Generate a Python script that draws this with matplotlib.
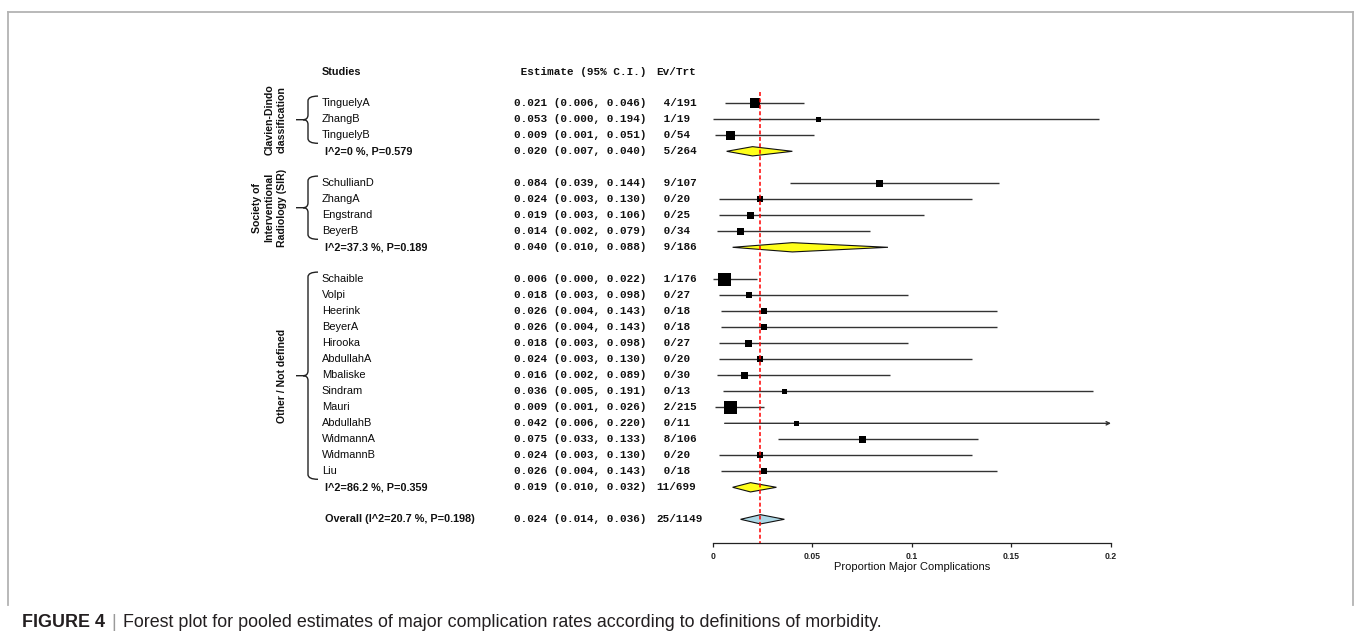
import matplotlib
matplotlib.use("Agg")
import numpy as np
import matplotlib.pyplot as plt
from matplotlib import transforms
from matplotlib.path import Path
from matplotlib.patches import PathPatch, Polygon
from matplotlib.lines import Line2D

# ---------------- data ----------------
studies = ["TinguelyA", "ZhangB", "TinguelyB",
           "SchullianD", "ZhangA", "Engstrand", "BeyerB",
           "Schaible", "Volpi", "Heerink", "BeyerA", "Hirooka", "AbdullahA",
           "Mbaliske", "Sindram", "Mauri", "AbdullahB", "WidmannA", "WidmannB", "Liu"]
study_group = [0, 0, 0,
               1, 1, 1, 1,
               2, 2, 2, 2, 2, 2, 2, 2, 2, 2, 2, 2, 2]
est = [0.021, 0.053, 0.009,
       0.084, 0.024, 0.019, 0.014,
       0.006, 0.018, 0.026, 0.026, 0.018, 0.024, 0.016, 0.036, 0.009, 0.042, 0.075, 0.024, 0.026]
ci_lo = [0.006, 0.000, 0.001,
         0.039, 0.003, 0.003, 0.002,
         0.000, 0.003, 0.004, 0.004, 0.003, 0.003, 0.002, 0.005, 0.001, 0.006, 0.033, 0.003, 0.004]
ci_hi = [0.046, 0.194, 0.051,
         0.144, 0.130, 0.106, 0.079,
         0.022, 0.098, 0.143, 0.143, 0.098, 0.130, 0.089, 0.191, 0.026, 0.220, 0.133, 0.130, 0.143]
events = [4, 1, 0,
          9, 0, 0, 0,
          1, 0, 0, 0, 0, 0, 0, 0, 2, 0, 8, 0, 0]
totals = [191, 19, 54,
          107, 20, 25, 34,
          176, 27, 18, 18, 27, 20, 30, 13, 215, 11, 106, 20, 18]
# relative study weight shown as box side (pixels)
box_side = [10, 5, 9,
            7, 6, 7, 7,
            13, 6, 6, 6, 7, 6, 7, 5, 13, 5, 7, 6, 6]

group_names = ["Clavien-Dindo\nclassification",
               "Society of\nInterventional\nRadiology (SIR)",
               "Other / Not defined"]
group_est = [0.020, 0.040, 0.019]
group_lo = [0.007, 0.010, 0.010]
group_hi = [0.040, 0.088, 0.032]
group_ev = [5, 9, 11]
group_n = [264, 186, 699]
group_i2 = [0, 37.3, 86.2]
group_p = [0.579, 0.189, 0.359]

overall_est, overall_lo, overall_hi = 0.024, 0.014, 0.036
overall_ev, overall_n = 25, 1149
overall_i2, overall_p = 20.7, 0.198

x_ticks = [0, 0.05, 0.1, 0.15, 0.2]
x_tick_labels = ["0", "0.05", "0.1", "0.15", "0.2"]
x_label = "Proportion Major Complications"
caption_bold = "FIGURE 4"
caption_text = "Forest plot for pooled estimates of major complication rates according to definitions of morbidity."

# ---------------- layout ----------------
W, H = 1356, 639
fig = plt.figure(figsize=(W / 100, H / 100), dpi=100)
fig.patch.set_facecolor("white")

x0px, x1px = 712.7, 1111.0
row0_px, row_h = 103.3, 16.0
y_bottom, y_top = 27.5, -2.5
ax = fig.add_axes([x0px / W, 1 - (row0_px + y_bottom * row_h) / H,
                   (x1px - x0px) / W, (y_bottom - y_top) * row_h / H])
ax.set_xlim(0, 0.2)
ax.set_ylim(y_bottom, y_top)
ax.patch.set_alpha(0)

trans = transforms.blended_transform_factory(fig.transFigure, ax.transData)
fx = lambda px: px / W

# row assignment
rows = []
group_rows = []
group_study_rows = []
r = 0
for g in range(len(group_names)):
    idx = [i for i, gg in enumerate(study_group) if gg == g]
    these = []
    for i in idx:
        these.append(r)
        r += 1
    rows.extend(these)
    group_study_rows.append(these)
    group_rows.append(r)
    r += 2
overall_row = r

name_font = dict(family="Liberation Sans", size=7.9, color="#0a0a0a")
bold_font = dict(family="Liberation Sans", size=7.8, weight="bold", color="#111111")
mono_font = dict(family="Liberation Mono", size=7.9, weight="bold", color="#111111")

# headers
hdr_row = -1.96
ax.text(fx(321.7), hdr_row, "Studies", transform=trans, va="center", ha="left", **bold_font)
ax.text(fx(514), hdr_row, " Estimate (95% C.I.)", transform=trans, va="center", ha="left", **mono_font)
ax.text(fx(656.7), hdr_row, "Ev/Trt", transform=trans, va="center", ha="left", **mono_font)

line_col = "#333333"
xmax = ax.get_xlim()[1]

# studies
for i, name in enumerate(studies):
    y = rows[i]
    ax.text(fx(321.7), y, name, transform=trans, va="center", ha="left", **name_font)
    ax.text(fx(514), y, f"{est[i]:.3f} ({ci_lo[i]:.3f}, {ci_hi[i]:.3f})",
            transform=trans, va="center", ha="left", **mono_font)
    ax.text(fx(656.7), y, f"{events[i]:>2d}/{totals[i]}", transform=trans,
            va="center", ha="left", **mono_font)
    if ci_hi[i] <= xmax:
        ax.plot([ci_lo[i], ci_hi[i]], [y, y], color=line_col, lw=1.0, zorder=2,
                solid_capstyle="butt")
    else:
        ax.annotate("", xy=(xmax, y), xytext=(ci_lo[i], y),
                    arrowprops=dict(arrowstyle="->", color=line_col, lw=1.0,
                                    shrinkA=0, shrinkB=0, mutation_scale=6))
ax.scatter(est, rows, marker="s", s=(np.array(box_side) * 0.72) ** 2,
           c="black", linewidths=0, zorder=3)

dh = 0.29


def diamond(e, lo, hi, y, color):
    ax.add_patch(Polygon([(lo, y), (e, y - dh), (hi, y), (e, y + dh)],
                         closed=True, facecolor=color, edgecolor="#111111",
                         lw=0.8, zorder=3))


# subgroup summaries
for g in range(len(group_names)):
    y = group_rows[g]
    ax.text(fx(325), y, f"I^2={group_i2[g]:g} %, P={group_p[g]:.3f}", transform=trans,
            va="center", ha="left", **bold_font)
    ax.text(fx(514), y, f"{group_est[g]:.3f} ({group_lo[g]:.3f}, {group_hi[g]:.3f})",
            transform=trans, va="center", ha="left", **mono_font)
    ax.text(fx(656.7), y, f"{group_ev[g]:>2d}/{group_n[g]}", transform=trans,
            va="center", ha="left", **mono_font)
    diamond(group_est[g], group_lo[g], group_hi[g], y, "#ffff1a")

    # brace
    sr = group_study_rows[g]
    top, bot = sr[0] - 0.45, sr[-1] + 0.5
    mid = (top + bot) / 2
    xv, xe, xt, xc = fx(308), fx(318), fx(296), fx(303)
    rr = 0.3
    verts = [(xe, top), (xv, top), (xv, top + rr),
             (xv, mid - rr), (xv, mid), (xc, mid),
             (xt, mid),
             (xc, mid), (xv, mid), (xv, mid + rr),
             (xv, bot - rr), (xv, bot), (xe, bot)]
    codes = [Path.MOVETO, Path.CURVE3, Path.CURVE3,
             Path.LINETO, Path.CURVE3, Path.CURVE3,
             Path.LINETO,
             Path.MOVETO, Path.CURVE3, Path.CURVE3,
             Path.LINETO, Path.CURVE3, Path.CURVE3]
    ax.add_patch(PathPatch(Path(verts, codes), transform=trans, facecolor="none",
                           edgecolor="#222222", lw=1.0, clip_on=False))
    # group label
    ax.text(fx(287), mid, group_names[g], transform=trans, rotation=90,
            ha="right", va="center", multialignment="center", linespacing=1.3,
            family="Liberation Sans", size=7.6, weight="bold", color="#111111")

# overall
ax.text(fx(325), overall_row, f"Overall (I^2={overall_i2:g} %, P={overall_p:.3f})",
        transform=trans, va="center", ha="left", **bold_font)
ax.text(fx(514), overall_row, f"{overall_est:.3f} ({overall_lo:.3f}, {overall_hi:.3f})",
        transform=trans, va="center", ha="left", **mono_font)
ax.text(fx(656.7), overall_row, f"{overall_ev:>2d}/{overall_n}", transform=trans,
        va="center", ha="left", **mono_font)
diamond(overall_est, overall_lo, overall_hi, overall_row, "#add8e6")

# reference line at overall estimate
ax.plot([overall_est, overall_est], [-0.7, y_bottom], color="red", lw=1.1,
        linestyle=(0, (2.6, 1.6)), zorder=4, clip_on=False)

# axis
for s in ["top", "left", "right"]:
    ax.spines[s].set_visible(False)
ax.spines["bottom"].set_bounds(0, 0.2)
ax.spines["bottom"].set_linewidth(0.9)
ax.spines["bottom"].set_color("#222222")
ax.set_yticks([])
ax.set_xticks(x_ticks)
ax.set_xticklabels(x_tick_labels, fontsize=6.2, fontweight="bold",
                   family="Liberation Sans", color="#222222")
ax.tick_params(axis="x", length=3, width=0.9, pad=3.2, color="#222222")
ax.text(0.5, (567 - row0_px) / row_h, x_label,
        transform=transforms.blended_transform_factory(ax.transAxes, ax.transData),
        ha="center", va="center", family="Liberation Sans", size=8.0, color="#111111")

# frame
fcol = "#b3b3b3"
for xs, ys in [([8.3, 1353], [11.5, 11.5]), ([8.3, 8.3], [11.5, 605]),
               ([1353, 1353], [11.5, 605])]:
    fig.add_artist(Line2D([fx(v) for v in xs], [1 - v / H for v in ys],
                          color=fcol, lw=1.3, transform=fig.transFigure))

# caption
renderer = fig.canvas.get_renderer()
cy = 1 - 622.5 / H
cap_size = 12.9
t1 = fig.text(fx(21.7), cy, caption_bold, ha="left", va="center", family="Liberation Sans",
              size=cap_size, weight="bold", color="#231f20")
bb = t1.get_window_extent(renderer)
t2 = fig.text(bb.x1 / W + fx(7), cy, "|", ha="left", va="center", family="Liberation Sans",
              size=cap_size, color="#9a9a9a")
bb2 = t2.get_window_extent(renderer)
fig.text(bb2.x1 / W + fx(7), cy, caption_text, ha="left", va="center",
         family="Liberation Sans", size=cap_size, color="#231f20")

fig.savefig("out.png", dpi=100, facecolor="white")
